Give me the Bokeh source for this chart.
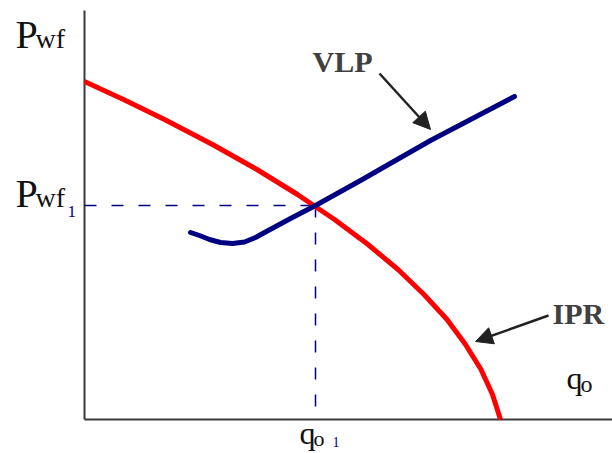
from bokeh.plotting import figure
from bokeh.models import Label, Arrow, NormalHead, Range1d
from bokeh.embed import file_html
from bokeh.resources import INLINE

# IPR curve (q, Pwf)
ipr_q = [0.0, 7.8, 16.0, 25.6, 34.5, 42.6, 50.0, 56.7, 62.7, 67.9, 72.5, 76.2, 79.3, 81.6, 83.2]
ipr_p = [67.6, 64.0, 60.0, 55.0, 50.0, 45.0, 40.0, 35.0, 30.0, 25.0, 20.0, 15.0, 10.0, 5.0, 0.0]

# VLP curve
vlp_q = [21.2, 23.0, 25.0, 27.2, 29.6, 32.0, 34.2, 36.2, 41.2, 46.2, 55.2, 69.2, 86.0]
vlp_p = [37.4, 36.8, 36.0, 35.4, 35.2, 35.5, 36.4, 37.5, 40.2, 42.8, 47.8, 55.8, 64.6]

# operating point
op_q = 46.2
op_p = 42.8

# axis extents
x_axis_end = 105.6
y_axis_end = 81.8

W, H = 612, 453
p = figure(width=W, height=H, output_backend="svg", toolbar_location=None,
           x_range=Range1d(-16.8, 105.6), y_range=Range1d(-6.8, 83.8),
           x_axis_type=None, y_axis_type=None,
           min_border=0, min_border_left=0, min_border_right=0,
           min_border_top=0, min_border_bottom=0)
p.outline_line_color = None
p.xgrid.grid_line_color = None
p.ygrid.grid_line_color = None
p.background_fill_color = "white"
p.border_fill_color = "white"

navy = "#000080"
axis_col = "#3a3a3a"

# axes
p.line([0, 0], [0, y_axis_end], line_color=axis_col, line_width=2)
p.line([0, x_axis_end], [0, 0], line_color=axis_col, line_width=2)

# dashed lines to operating point
p.line([0, op_q], [op_p, op_p], line_color=navy, line_width=1.5, line_dash="12 15")
p.line([op_q, op_q], [op_p, 0], line_color=navy, line_width=1.5, line_dash="12 15")

p.line(ipr_q, ipr_p, line_color="#ff0000", line_width=5)
p.line(vlp_q, vlp_p, line_color=navy, line_width=5, line_cap="round", line_join="round")

def lab(x, y, t, size, color="#111111", bold=False):
    # small upward correction of the rendered baseline
    y = y + 0.33 * size / 5.0
    p.add_layout(Label(x=x, y=y, text=t, text_font="Liberation Serif",
                       text_font_size=f"{size}px", text_color=color,
                       text_font_style="bold" if bold else "normal",
                       text_baseline="alphabetic", text_align="left"))

lab(-13.8, 74.4, "P", 40)
lab(-9.8, 74.4, "wf", 28)
lab(-13.8, 42.6, "P", 40)
lab(-9.8, 42.6, "wf", 28)
lab(-3.4, 40.4, "1", 17, navy)
lab(43.0, -4.8, "q", 32)
lab(45.8, -5.2, "o", 22)
lab(49.6, -5.4, "1", 14, navy)
lab(96.4, 6.2, "q", 32)
lab(99.2, 5.6, "o", 24)
lab(45.6, 69.6, "VLP", 30, "#404040", True)
lab(93.6, 19.2, "IPR", 30, "#404040", True)

for (x0, y0, x1, y1) in [(59.0, 69.2, 69.2, 58.0), (92.8, 20.8, 78.2, 15.6)]:
    p.add_layout(Arrow(end=NormalHead(size=17, fill_color="#222222", line_color="#222222"),
                       x_start=x0, y_start=y0, x_end=x1, y_end=y1,
                       line_color="#222222", line_width=2.5))

open("out.html", "w").write(file_html(p, INLINE))
